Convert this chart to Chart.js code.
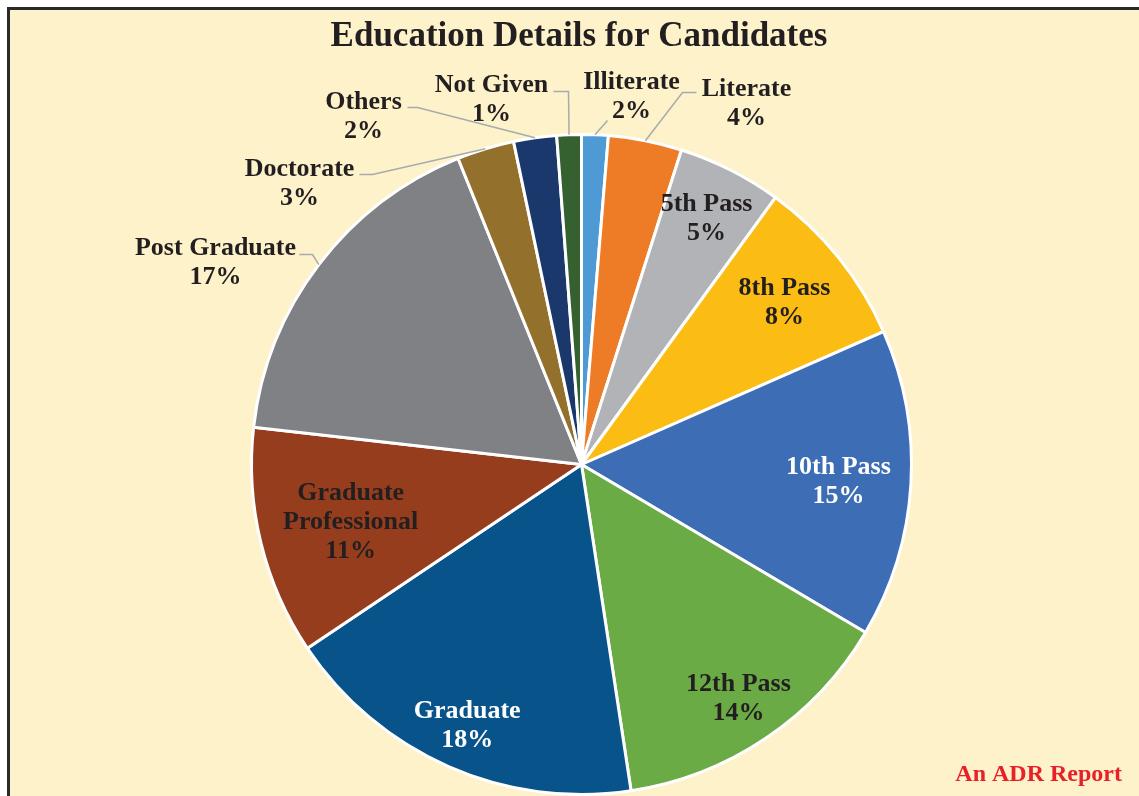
<!DOCTYPE html>
<html>
<head>
<meta charset="utf-8">
<script src="https://cdn.jsdelivr.net/npm/chart.js@4.4.1/dist/chart.umd.min.js"></script>
<style>
  html, body { margin: 0; padding: 0; background: #fff; }
  canvas { display: block; }
</style>
</head>
<body>
<canvas id="chart" width="1139" height="796"></canvas>
<script>
const categories = ['Illiterate', 'Literate', '5th Pass', '8th Pass', '10th Pass', '12th Pass',
  'Graduate', 'Graduate Professional', 'Post Graduate', 'Doctorate', 'Others', 'Not Given'];
const shares = [1.3, 3.6, 5.1, 8.4, 15.1, 14.1, 18.0, 11.2, 17.1, 2.8, 2.1, 1.2];
const percentLabels = ['2%', '4%', '5%', '8%', '15%', '14%', '18%', '11%', '17%', '3%', '2%', '1%'];
const colors = ['#4e9ad4', '#ee7b25', '#b2b3b6', '#fbbd14', '#3d6db5', '#6bab46',
  '#08538a', '#963d1e', '#808184', '#93702c', '#1b386c', '#356130'];

const FONT = 'bold 26px "Liberation Serif", "Times New Roman", serif';
const INK = '#231f20';
const LINE_H = 29;
const TEXT_DY = 2; // 'middle' baseline sits a bit high for this font

// inside labels: radial fraction of the slice mid angle
const inside = {
  2: { r: 0.84 },
  3: { r: 0.79 },
  4: { r: 0.78, color: '#fff' },
  5: { r: 0.85 },
  6: { r: 0.86, color: '#fff' },
  7: { r: 0.72, lines: ['Graduate', 'Professional'] }
};
// outside labels: text centre and leader points, offsets from the pie centre
const outside = {
  0: { text: [50, -370], leader: [[26, -344]] },
  1: { text: [165, -363], leader: [[101, -372], [115, -372]] },
  8: { text: [-366, -204], leader: [[-269, -210], [-282, -210]] },
  9: { text: [-282, -283], leader: [[-209, -290], [-222, -290]] },
  10: { text: [-218, -350], leader: [[-164, -357], [-174, -357]] },
  11: { text: [-90, -367], leader: [[-13, -373], [-28, -373]] }
};

const frame = {
  id: 'frame',
  beforeDraw(chart) {
    const ctx = chart.ctx;
    ctx.save();
    ctx.fillStyle = '#fff';
    ctx.fillRect(0, 0, chart.width, chart.height);
    ctx.fillStyle = '#2b2a2b';
    ctx.fillRect(7, 7, chart.width - 7, chart.height - 7);
    ctx.fillStyle = '#fdf2ca';
    ctx.fillRect(10, 10, chart.width - 10, chart.height - 10);
    ctx.fillStyle = INK;
    ctx.font = 'bold 35px "Liberation Serif", "Times New Roman", serif';
    ctx.textAlign = 'center';
    ctx.textBaseline = 'middle';
    ctx.fillText('Education Details for Candidates', 579, 37);
    ctx.restore();
  },
  afterDraw(chart) {
    const ctx = chart.ctx;
    ctx.save();
    ctx.fillStyle = '#e8202a';
    ctx.font = 'bold 24px "Liberation Serif", "Times New Roman", serif';
    ctx.textAlign = 'right';
    ctx.textBaseline = 'middle';
    ctx.fillText('An ADR Report', 1122, 775);
    ctx.restore();
  }
};

const sliceLabels = {
  id: 'sliceLabels',
  afterDatasetsDraw(chart) {
    const ctx = chart.ctx;
    const arcs = chart.getDatasetMeta(0).data;
    ctx.save();
    ctx.font = FONT;
    ctx.textAlign = 'center';
    ctx.textBaseline = 'middle';
    arcs.forEach((arc, i) => {
      const { x, y, startAngle, endAngle, outerRadius } = arc.getProps(['x', 'y', 'startAngle', 'endAngle', 'outerRadius'], true);
      const mid = (startAngle + endAngle) / 2;
      if (inside[i]) {
        const cfg = inside[i];
        const lines = (cfg.lines || [categories[i]]).concat(percentLabels[i]);
        const cx = x + Math.cos(mid) * outerRadius * cfg.r;
        const cy = y + Math.sin(mid) * outerRadius * cfg.r + TEXT_DY;
        ctx.fillStyle = cfg.color || INK;
        lines.forEach((t, k) => {
          ctx.fillText(t, cx, cy + (k - (lines.length - 1) / 2) * LINE_H);
        });
      } else if (outside[i]) {
        const cfg = outside[i];
        ctx.strokeStyle = '#a8aaad';
        ctx.lineWidth = 1.5;
        ctx.beginPath();
        ctx.moveTo(x + Math.cos(mid) * outerRadius, y + Math.sin(mid) * outerRadius);
        cfg.leader.forEach(p => ctx.lineTo(x + p[0], y + p[1]));
        ctx.stroke();
        ctx.fillStyle = INK;
        const cx = x + cfg.text[0];
        const cy = y + cfg.text[1] + TEXT_DY;
        ctx.fillText(categories[i], cx, cy - LINE_H / 2);
        ctx.fillText(percentLabels[i], cx, cy + LINE_H / 2);
      }
    });
    ctx.restore();
  }
};

new Chart(document.getElementById('chart'), {
  type: 'pie',
  data: {
    labels: categories,
    datasets: [{
      data: shares,
      backgroundColor: colors,
      borderColor: '#ffffff',
      borderWidth: 3
    }]
  },
  options: {
    responsive: false,
    devicePixelRatio: 1,
    animation: false,
    layout: { padding: { left: 250, right: 226, top: 133, bottom: 0 } },
    plugins: {
      legend: { display: false },
      tooltip: { enabled: false },
      title: { display: false }
    }
  },
  plugins: [frame, sliceLabels]
});
</script>
</body>
</html>
